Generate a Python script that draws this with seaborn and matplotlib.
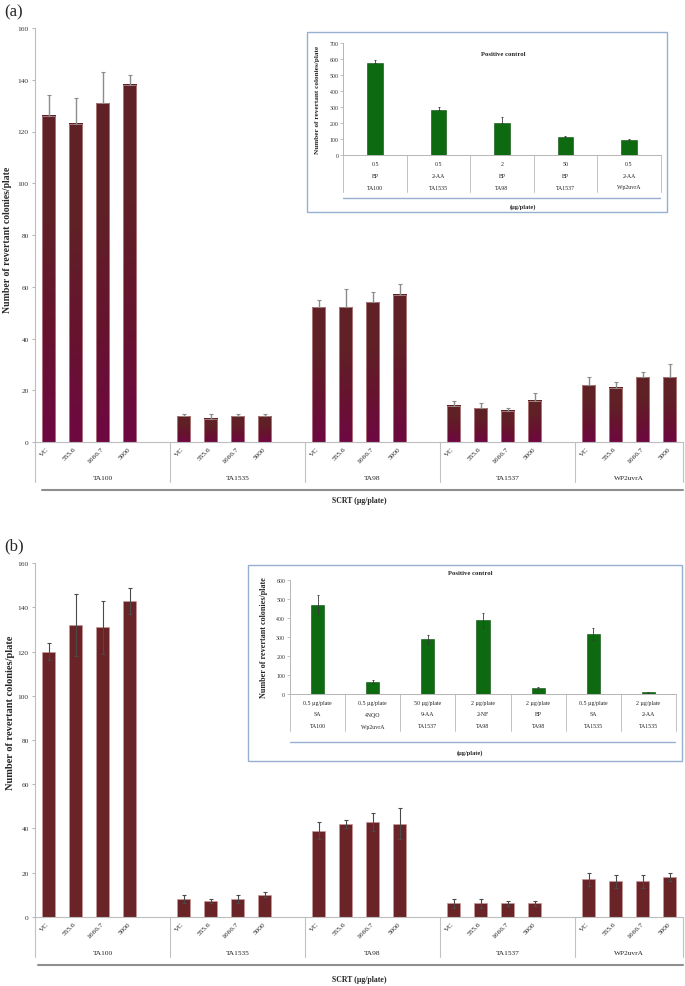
"""Ames test revertant counts for SCRT with positive-control insets (panels a and b)."""

import numpy as np
import pandas as pd
import matplotlib
matplotlib.use("Agg")
import matplotlib.pyplot as plt
import seaborn as sns
from matplotlib.colors import LinearSegmentedColormap
from matplotlib.lines import Line2D
from matplotlib.patches import Rectangle

# ---- data -------------------------------------------------------------
strains = ["TA100", "TA1535", "TA98", "TA1537", "WP2uvrA"]
doses = ["VC", "555.6", "1666.7", "5000"]

a_mean = [126, 123, 131, 138, 10, 9, 10, 10, 52, 52, 54, 57, 14, 13, 12, 16, 22, 21, 25, 25]
a_sd = [8, 10, 12, 4, 1, 2, 1, 1, 3, 7, 4, 4, 2, 2, 1, 3, 3, 2, 2, 5]

b_mean = [120, 132, 131, 143, 8, 7, 8, 10, 39, 42, 43, 42, 6, 6, 6, 6, 17, 16, 16, 18]
b_sd = [4, 14, 12, 6, 2, 1, 2, 1, 4, 2, 4, 7, 2, 2, 1, 1, 3, 3, 3, 2]

pc_a_dose = ["0.5", "0.5", "2", "50", "0.5"]
pc_a_agent = ["BP", "2-AA", "BP", "BP", "2-AA"]
pc_a_strain = ["TA100", "TA1535", "TA98", "TA1537", "Wp2uvrA"]
pc_a_mean = [573, 283, 200, 115, 92]
pc_a_sd = [20, 17, 40, 6, 8]

pc_b_dose = ["0.5 µg/plate", "0.5 µg/plate", "50 µg/plate", "2 µg/plate",
             "2 µg/plate", "0.5 µg/plate", "2 µg/plate"]
pc_b_agent = ["SA", "4NQO", "9-AA", "2-NF", "BP", "SA", "2-AA"]
pc_b_strain = ["TA100", "Wp2uvrA", "TA1537", "TA98", "TA98", "TA1535", "TA1535"]
pc_b_mean = [470, 65, 288, 388, 33, 316, 9]
pc_b_sd = [50, 8, 25, 40, 6, 30, 2]

# ---- style ------------------------------------------------------------
sns.set_style("white")
plt.rcParams["font.family"] = ["Liberation Serif", "DejaVu Serif"]

W, H = 685, 987
SEP = "#c2c2c2"
BLUE = "#97b0d2"


def axes_px(fig, left, top, right, bottom):
    return fig.add_axes([left / W, 1 - bottom / H, (right - left) / W, (bottom - top) / H])


def line_px(fig, x0, y0, x1, y1, **kw):
    fig.add_artist(Line2D([x0 / W, x1 / W], [1 - y0 / H, 1 - y1 / H],
                          transform=fig.transFigure, **kw))


def text_px(fig, x, y, s, **kw):
    fig.text(x / W, 1 - y / H, s, **kw)


def main_panel(fig, box, means, sds, gradient, both_sides, ylabel_pos, ylabel_size):
    left, top, right, bottom = box
    ax = axes_px(fig, left, top, right, bottom)
    hpx = bottom - top

    order = []
    for i, s in enumerate(strains):
        order += [f"{s}|{d}" for d in doses]
        if i < len(strains) - 1:
            order.append(f"gap{i}")
    slots = [f"{s}|{d}" for s in strains for d in doses]
    df = pd.DataFrame({"slot": slots, "count": means})

    sns.barplot(data=df, x="slot", y="count", order=order, color="#6a2326",
                width=0.5, errorbar=None, edgecolor="#c99a9a", linewidth=0.5,
                saturation=1, ax=ax)

    if gradient:
        cmap = LinearSegmentedColormap.from_list(
            "maroon", ["#6e0842", "#67132f", "#602027", "#5f2226"])
        grad = np.linspace(0, 1, 256).reshape(-1, 1)
        for bar in ax.patches:
            x0, w, h = bar.get_x(), bar.get_width(), bar.get_height()
            if h <= 0:
                continue
            ax.imshow(grad, extent=[x0, x0 + w, 0, h], origin="lower", cmap=cmap,
                      aspect="auto", zorder=bar.get_zorder() - 0.01)
            bar.set_facecolor("none")

    pos = [order.index(s) for s in slots]
    sd = np.array(sds)
    if both_sides:
        ax.errorbar(pos, means, yerr=sd, fmt="none", ecolor="#4a4a4a",
                    elinewidth=0.8, capsize=1.3, capthick=0.8, zorder=5)
    else:
        ax.errorbar(pos, means, yerr=[np.zeros_like(sd), sd], fmt="none",
                    ecolor="#8c8c8c", elinewidth=1.0, capsize=1.2, capthick=0.8, zorder=5)

    ax.set_xlim(-0.5, len(order) - 0.5)
    ax.set_ylim(0, 160)
    ax.set_yticks(range(0, 161, 20))
    ax.set_xticks(range(len(order)))
    ax.set_xticklabels([o.split("|")[1] if "|" in o else "" for o in order],
                       rotation=45, ha="right", va="center", rotation_mode="anchor",
                       fontsize=5.3, color="#222222")
    ax.tick_params(axis="x", length=0, pad=4)
    ax.tick_params(axis="y", length=2.5, width=0.6, color="#a8a8a8", labelsize=5.3,
                   labelcolor="#333333", pad=2, left=True)
    ax.set_xlabel("")
    ax.set_ylabel("Number of revertant colonies/plate", fontsize=ylabel_size,
                  fontweight="bold")
    ax.yaxis.set_label_coords(*ylabel_pos)
    for side in ["top", "right"]:
        ax.spines[side].set_visible(False)
    for side in ["left", "bottom"]:
        ax.spines[side].set_color("#bdbdbd")
        ax.spines[side].set_linewidth(0.8)

    trans = ax.get_xaxis_transform()
    sep_y = -40 / hpx
    lab_y = -36 / hpx
    bounds = [-0.5]
    for i, s in enumerate(strains):
        lo = i * 5 - 0.5
        hi = min(i * 5 + 4.5, len(order) - 0.5)
        bounds.append(hi)
        ax.text((lo + hi) / 2, lab_y, s, transform=trans, ha="center", va="center",
                fontsize=5.3, color="#222222")
    for b in bounds:
        ax.plot([b, b], [0, sep_y], transform=trans, clip_on=False, color=SEP, lw=0.8)
    return ax


def inset_panel(fig, box, frame, doses_, agents, strains_, means, sds, ymax,
                both_sides, ylabel_x, ylabel_size, title_xy, unit_xy, blue_y):
    left, top, right, bottom = box
    ax = axes_px(fig, left, top, right, bottom)
    hpx = bottom - top
    fig.add_artist(Rectangle((frame[0] / W, 1 - frame[3] / H),
                             (frame[2] - frame[0]) / W, (frame[3] - frame[1]) / H,
                             transform=fig.transFigure, fill=False, edgecolor=BLUE, lw=1.0))

    cats = [f"{a}|{s}|{k}" for k, (a, s) in enumerate(zip(agents, strains_))]
    df = pd.DataFrame({"cat": cats, "count": means})
    sns.barplot(data=df, x="cat", y="count", order=cats, color="#0d6a10",
                width=0.24, errorbar=None, edgecolor="#0a4f0c", linewidth=0.4,
                saturation=1, ax=ax)
    sd = np.array(sds)
    pos = np.arange(len(cats))
    if both_sides:
        ax.errorbar(pos, means, yerr=sd, fmt="none", ecolor="#3a3a3a",
                    elinewidth=0.6, capsize=1.0, capthick=0.6, zorder=5)
    else:
        ax.errorbar(pos, means, yerr=[np.zeros_like(sd), sd], fmt="none",
                    ecolor="#3a3a3a", elinewidth=0.6, capsize=1.0, capthick=0.6, zorder=5)

    ax.set_xlim(-0.5, len(cats) - 0.5)
    ax.set_ylim(0, ymax)
    ax.set_yticks(range(0, ymax + 1, 100))
    ax.set_xticks([])
    ax.set_xlabel("")
    ax.tick_params(axis="y", length=2, width=0.5, color="#a8a8a8", labelsize=4.2,
                   labelcolor="#333333", pad=1.5, left=True)
    ax.set_ylabel("Number of revertant colonies/plate", fontsize=ylabel_size,
                  fontweight="bold")
    ax.yaxis.set_label_coords((ylabel_x - left) / (right - left), 0.5)
    for side in ["top", "right"]:
        ax.spines[side].set_visible(False)
    for side in ["left", "bottom"]:
        ax.spines[side].set_color("#b5b5b5")
        ax.spines[side].set_linewidth(0.7)

    trans = ax.get_xaxis_transform()
    for k in range(len(cats)):
        for row, txt in zip([8.3, 20, 32], [doses_[k], agents[k], strains_[k]]):
            ax.text(k, -row / hpx, txt, transform=trans, ha="center", va="center",
                    fontsize=4.2, color="#222222")
    for b in np.arange(len(cats) + 1) - 0.5:
        ax.plot([b, b], [0, -36.5 / hpx], transform=trans, clip_on=False,
                color=SEP, lw=0.7)

    line_px(fig, left, blue_y, right - 1, blue_y, color=BLUE, lw=1.0)
    text_px(fig, title_xy[0], title_xy[1], "Positive control", ha="center",
            va="center", fontsize=4.8, fontweight="bold")
    text_px(fig, unit_xy[0], unit_xy[1], "(µg/plate)", ha="center", va="center",
            fontsize=4.6, fontweight="bold")
    return ax


fig = plt.figure(figsize=(W / 100, H / 100), dpi=100)

# ---- panel (a) --------------------------------------------------------
main_panel(fig, (35, 29, 683, 443), a_mean, a_sd, gradient=True, both_sides=False,
           ylabel_pos=(-0.036, 0.49), ylabel_size=7)
line_px(fig, 42, 491, 683, 491, color="#8f8f8f", lw=1.5)
text_px(fig, 359, 501, "SCRT (µg/plate)", ha="center", va="center",
        fontsize=5.6, fontweight="bold")
text_px(fig, 4, 12, "(a)", ha="left", va="center", fontsize=12)

inset_panel(fig, (343.3, 44, 660.7, 156), (306.7, 33.3, 666.7, 212.7),
            pc_a_dose, pc_a_agent, pc_a_strain, pc_a_mean, pc_a_sd, 700,
            both_sides=False, ylabel_x=320, ylabel_size=5.2,
            title_xy=(503, 54.5), unit_xy=(523, 207.5), blue_y=199.3)

# ---- panel (b) --------------------------------------------------------
main_panel(fig, (35, 564.3, 683, 917.7), b_mean, b_sd, gradient=False, both_sides=True,
           ylabel_pos=(-0.031, 0.58), ylabel_size=7.5)
line_px(fig, 38, 966, 683, 966, color="#8f8f8f", lw=1.5)
text_px(fig, 359, 980, "SCRT (µg/plate)", ha="center", va="center",
        fontsize=5.6, fontweight="bold")
text_px(fig, 4, 546, "(b)", ha="left", va="center", fontsize=12)

inset_panel(fig, (290, 581, 676, 695), (248.3, 565.7, 682, 762),
            pc_b_dose, pc_b_agent, pc_b_strain, pc_b_mean, pc_b_sd, 600,
            both_sides=True, ylabel_x=268, ylabel_size=5.9,
            title_xy=(470, 573.5), unit_xy=(470, 753), blue_y=742.7)

fig.savefig("out.png", dpi=100)
